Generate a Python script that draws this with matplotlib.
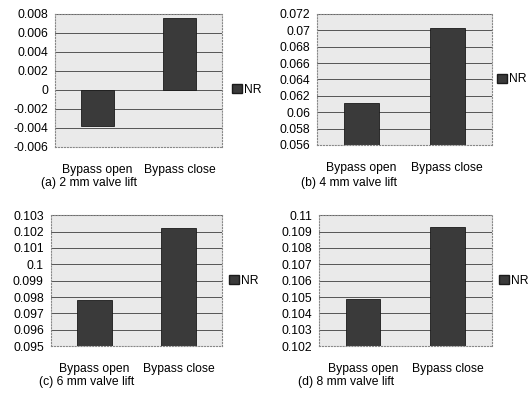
import matplotlib
matplotlib.use("Agg")
import matplotlib.pyplot as plt
from matplotlib.patches import Patch
from matplotlib.ticker import FuncFormatter, MultipleLocator

plt.rcParams['font.family'] = ['Liberation Sans', 'DejaVu Sans']
plt.rcParams['font.size'] = 8.7

# datos
categorias = ['Bypass open', 'Bypass close']
nr_2mm = [-0.00385, 0.0076]
nr_4mm = [0.0611, 0.0703]
nr_6mm = [0.0978, 0.1022]
nr_8mm = [0.1049, 0.1093]
titulos = ['(a) 2 mm valve lift', '(b) 4 mm valve lift',
           '(c) 6 mm valve lift', '(d) 8 mm valve lift']

# (posicion ejes, ylim, paso, leyenda, pie)
paneles = [
    (nr_2mm, [0.104, 0.630, 0.316, 0.335], (-0.006, 0.008), 0.002, (1.06, 0.43), (0.078, 0.539)),
    (nr_4mm, [0.599, 0.635, 0.331, 0.330], (0.056, 0.072), 0.002, (1.03, 0.50), (0.569, 0.539)),
    (nr_6mm, [0.096, 0.128, 0.324, 0.330], (0.095, 0.103), 0.001, (1.04, 0.50), (0.074, 0.038)),
    (nr_8mm, [0.603, 0.128, 0.327, 0.330], (0.102, 0.110), 0.001, (1.04, 0.50), (0.563, 0.038)),
]

def fmt(v, pos):
    s = ('%.3f' % v).rstrip('0').rstrip('.')
    if s == '-0':
        s = '0'
    return s

fig = plt.figure(figsize=(5.29, 3.97), dpi=100)

for (vals, pos, ylim, paso, leg, pie), titulo in zip(paneles, titulos):
    ax = fig.add_axes(pos)
    ax.set_facecolor('#eaeaea')
    ax.set_axisbelow(True)
    ax.bar([0, 1], vals, width=0.41, color='#3a3a3a', edgecolor='#1a1a1a', linewidth=0.6)
    ax.set_xlim(-0.52, 1.52)
    ax.set_ylim(*ylim)
    ax.yaxis.set_major_locator(MultipleLocator(paso))
    ax.yaxis.set_major_formatter(FuncFormatter(fmt))
    ax.yaxis.grid(True, color='#555555', linewidth=0.7)
    ax.set_xticks([0, 1])
    ax.set_xticklabels(categorias)
    ax.tick_params(axis='both', length=0)
    ax.tick_params(axis='x', pad=12)
    ax.tick_params(axis='y', pad=5)
    for s in ax.spines.values():
        s.set_color('#888888')
        s.set_linestyle(':')
        s.set_linewidth(0.8)
    ax.legend(handles=[Patch(facecolor='#3a3a3a', edgecolor='#1a1a1a', label='NR')],
              loc='center left', bbox_to_anchor=leg, frameon=False,
              handlelength=0.8, handleheight=0.8, handletextpad=0.2,
              borderpad=0, borderaxespad=0)
    fig.text(pie[0], pie[1], titulo, va='center', ha='left')

plt.savefig('out.png', dpi=100)
